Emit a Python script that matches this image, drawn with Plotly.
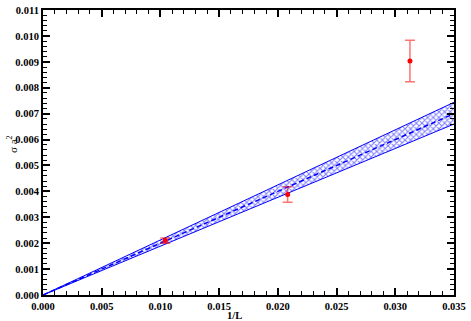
import plotly.graph_objects as go

# data
inv_L = [1/96, 1/48, 1/32]
sigma_a2 = [0.00210, 0.00388, 0.00903]
sigma_err = [0.00010, 0.00030, 0.00080]

fit_x = [0.0, 0.035]
slope_center = 0.200
slope_upper = 0.2125
slope_lower = 0.1885
fit_center = [slope_center * x for x in fit_x]
fit_upper = [slope_upper * x for x in fit_x]
fit_lower = [slope_lower * x for x in fit_x]

fig = go.Figure()
fig.add_trace(go.Scatter(x=fit_x, y=fit_lower, mode="lines",
                         line=dict(color="blue", width=1), showlegend=False))
fig.add_trace(go.Scatter(x=fit_x, y=fit_upper, mode="lines", fill="tonexty",
                         fillcolor="rgba(0,0,0,0)",
                         fillpattern=dict(shape="x", fgcolor="blue", bgcolor="white",
                                          size=4, solidity=0.45),
                         line=dict(color="blue", width=1), showlegend=False))
fig.add_trace(go.Scatter(x=fit_x, y=fit_center, mode="lines",
                         line=dict(color="blue", width=1.5, dash="5px,3px"), showlegend=False))
fig.add_trace(go.Scatter(x=inv_L, y=sigma_a2, mode="markers",
                         marker=dict(color="red", size=5),
                         error_y=dict(type="data", array=sigma_err, color="rgba(255,0,0,0.55)",
                                      thickness=1.5, width=5),
                         showlegend=False))

tickfont = dict(family="Liberation Serif", size=10.5, color="black", weight="bold")
fig.update_xaxes(range=[0, 0.035], dtick=0.005, tickformat=".3f", ticks="inside",
                 ticklen=7, tickwidth=1.5, tickcolor="black", showline=True, linecolor="black",
                 linewidth=2, mirror="ticks", showgrid=False, zeroline=False,
                 tickfont=tickfont,
                 minor=dict(ticks="inside", ticklen=4, dtick=0.001, tickwidth=1.2,
                            tickcolor="black", showgrid=False))
fig.update_yaxes(range=[0, 0.011], dtick=0.001, tickformat=".3f", ticks="inside",
                 ticklen=7, tickwidth=1.5, tickcolor="black", showline=True, linecolor="black",
                 linewidth=2, mirror="ticks", showgrid=False, zeroline=False,
                 tickfont=tickfont,
                 minor=dict(ticks="inside", ticklen=4, dtick=0.0002, tickwidth=1.2,
                            tickcolor="black", showgrid=False))

fig.add_annotation(text="<b>1/L</b>", xref="paper", yref="paper", x=0.465, y=0,
                   yshift=-13, yanchor="top", showarrow=False,
                   font=dict(family="Liberation Serif", size=10.5, color="black"))
fig.add_annotation(text="σ a<sup>2</sup>", xref="paper", yref="paper", x=0, y=0.53,
                   xshift=-40, textangle=-90, showarrow=False,
                   font=dict(family="Liberation Serif", size=11, color="black"))

fig.update_layout(width=471, height=321, margin=dict(l=43, r=13, t=5, b=26),
                  plot_bgcolor="white", paper_bgcolor="white")
fig.write_html("out.html", config={"displayModeBar": False},
               post_script="document.body.style.margin='0';document.body.style.overflow='hidden';")
